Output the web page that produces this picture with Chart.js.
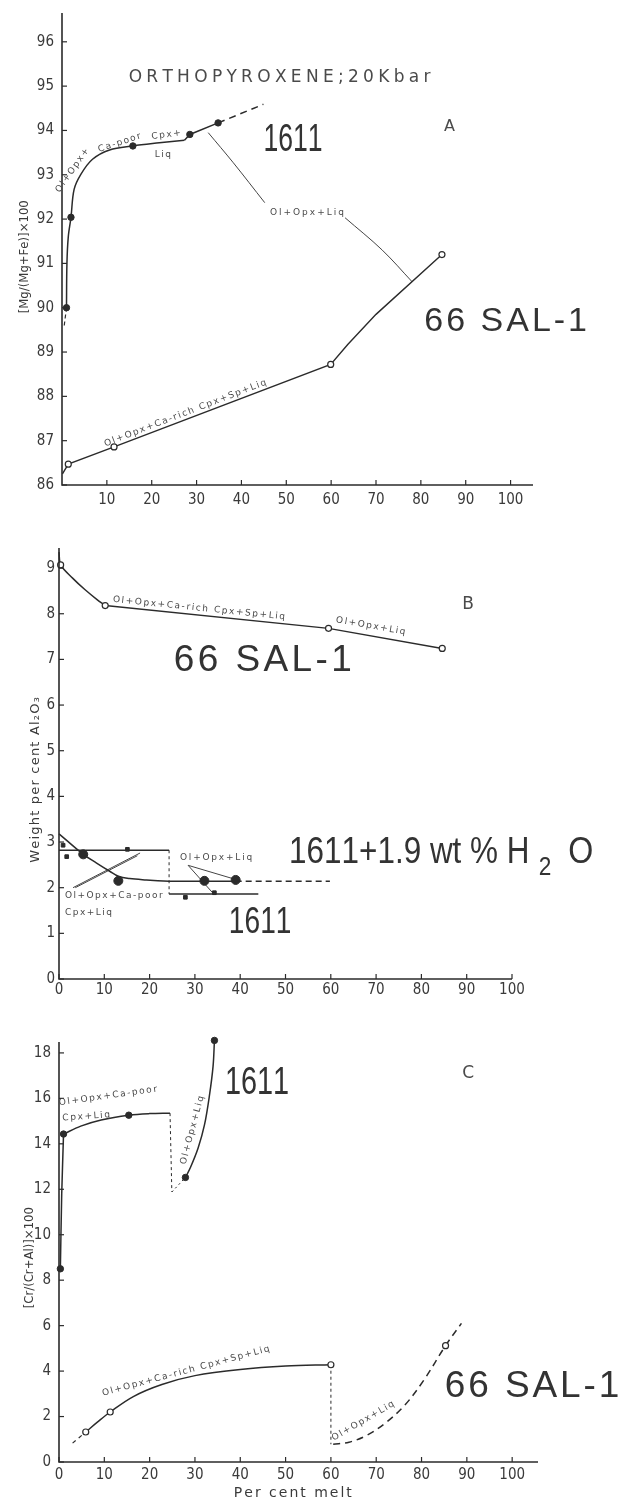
<!DOCTYPE html>
<html>
<head>
<meta charset="utf-8">
<script src="https://cdn.jsdelivr.net/npm/chart.js@4.4.1/dist/chart.umd.min.js"></script>
<style>
  html, body { margin: 0; padding: 0; background: #fff; }
  body { width: 634px; height: 1503px; position: relative; overflow: hidden; }
  canvas { position: absolute; left: 0; }
</style>
</head>
<body>
<canvas id="chartA" width="634" height="520" style="top:0px"></canvas>
<canvas id="chartB" width="634" height="480" style="top:520px"></canvas>
<canvas id="chartC" width="634" height="503" style="top:1000px"></canvas>
<script>
// ---------- data (per cent melt vs. composition) ----------

// Panel A: [Mg/(Mg+Fe)]x100 of orthopyroxene
const xTicksA = [10, 20, 30, 40, 50, 60, 70, 80, 90, 100];
const yTicksA = [86, 87, 88, 89, 90, 91, 92, 93, 94, 95, 96];
const a1611LineX = [1.0, 1.1, 1.4, 2.0, 2.7, 4.2, 6.8, 10.6, 15.8, 21.7, 27.3];
const a1611LineY = [90.0, 91.0, 91.6, 92.04, 92.67, 93.01, 93.35, 93.56, 93.65, 93.72, 93.78];
const a1611KinkX = [27.3, 28.5, 34.8];
const a1611KinkY = [93.78, 93.91, 94.17];
const a1611HeadX = [0.5, 1.0];
const a1611HeadY = [89.6, 90.0];
const a1611TailX = [34.8, 44.9];
const a1611TailY = [94.17, 94.59];
const a1611PtsX = [1.0, 2.0, 15.8, 28.5, 34.8];
const a1611PtsY = [90.0, 92.04, 93.65, 93.91, 94.17];
const aSalLineX = [0.1, 1.4, 11.6, 59.9, 63.7, 70.0, 84.7];
const aSalLineY = [86.25, 86.47, 86.86, 88.72, 89.17, 89.85, 91.2];
const aSalPtsX = [1.4, 11.6, 59.9, 84.7];
const aSalPtsY = [86.47, 86.86, 88.72, 91.2];
const aLeadOneX = [32.6, 38.2, 45.2];
const aLeadOneY = [93.95, 93.27, 92.37];
const aLeadTwoX = [63.1, 71.4, 78.1];
const aLeadTwoY = [92.03, 91.3, 90.58];

// Panel B: weight per cent Al2O3
const xTicksB = [0, 10, 20, 30, 40, 50, 60, 70, 80, 90, 100];
const yTicksB = [0, 1, 2, 3, 4, 5, 6, 7, 8, 9];
const bSalCurveX = [0, 0.36, 3.0, 5.7, 8.4, 10.2];
const bSalCurveY = [9.35, 9.07, 8.78, 8.53, 8.31, 8.18];
const bSalLineX = [10.2, 59.5, 84.6];
const bSalLineY = [8.18, 7.68, 7.24];
const bSalPtsX = [0.36, 10.2, 59.5, 84.6];
const bSalPtsY = [9.07, 8.18, 7.68, 7.24];
const b1611CurveX = [0, 5.35, 8.3, 11.2, 13.1, 15.6, 19.3, 24.3];
const b1611CurveY = [3.18, 2.73, 2.54, 2.36, 2.25, 2.2, 2.17, 2.14];
const b1611UpperX = [0, 24.3];
const b1611UpperY = [2.82, 2.82];
const b1611StepX = [24.3, 24.3];
const b1611StepY = [2.82, 1.86];
const b1611LowerX = [24.3, 44.0];
const b1611LowerY = [1.86, 1.86];
const bWetLineX = [24.3, 39.0];
const bWetLineY = [2.14, 2.14];
const bWetTailX = [39.0, 59.8];
const bWetTailY = [2.14, 2.14];
const bWetPtsX = [5.35, 13.1, 32.1, 39.0];
const bWetPtsY = [2.73, 2.15, 2.15, 2.17];
const bDryPtsX = [0.9, 1.7, 15.1, 27.9, 34.3];
const bDryPtsY = [2.93, 2.68, 2.84, 1.79, 1.89];
const bLeadOneX = [3.1, 17.9];
const bLeadOneY = [2.0, 2.76];
const bLeadTwoX = [3.6, 17.3];
const bLeadTwoY = [2.0, 2.70];
const bLeadThreeX = [28.5, 39.0];
const bLeadThreeY = [2.49, 2.18];
const bLeadFourX = [28.5, 33.9];
const bLeadFourY = [2.49, 1.89];

// Panel C: [Cr/(Cr+Al)]x100
const xTicksC = [0, 10, 20, 30, 40, 50, 60, 70, 80, 90, 100];
const yTicksC = [0, 2, 4, 6, 8, 10, 12, 14, 16, 18];
const c1611StemX = [0.3, 0.6, 1.0];
const c1611StemY = [8.5, 11.8, 14.43];
const c1611LineX = [1.0, 4.8, 9.3, 15.4, 20.0, 24.5];
const c1611LineY = [14.43, 14.78, 15.05, 15.26, 15.33, 15.35];
const c1611DropX = [24.5, 24.9];
const c1611DropY = [15.35, 11.88];
const c1611LinkX = [24.9, 27.9];
const c1611LinkY = [11.88, 12.52];
const c1611RiseX = [27.9, 29.0, 30.7, 32.1, 33.2, 34.0, 34.3];
const c1611RiseY = [12.52, 12.96, 13.82, 14.83, 16.13, 17.42, 18.55];
const c1611PtsX = [0.3, 1.0, 15.4, 27.9, 34.3];
const c1611PtsY = [8.5, 14.43, 15.26, 12.52, 18.55];
const cSalHeadX = [3.0, 5.9];
const cSalHeadY = [0.83, 1.32];
const cSalLineX = [5.9, 8.4, 11.3, 16.4, 22.7, 30, 40, 50, 60];
const cSalLineY = [1.32, 1.74, 2.2, 2.88, 3.41, 3.8, 4.07, 4.22, 4.28];
const cSalDropX = [60, 60];
const cSalDropY = [4.28, 0.78];
const cSalTailX = [60.5, 64, 68, 72, 76.3, 80.5, 85.3, 88.8];
const cSalTailY = [0.78, 0.87, 1.18, 1.71, 2.5, 3.6, 5.12, 6.1];
const cSalPtsX = [5.9, 11.3, 60, 85.3];
const cSalPtsY = [1.32, 2.2, 4.28, 5.12];

// ---------- styling helpers ----------
const SANS = "'DejaVu Sans', sans-serif";
const COND = "'DejaVu Sans Condensed', 'DejaVu Sans', sans-serif";
const BIG = "'Liberation Sans', 'DejaVu Sans', sans-serif";
const INK = '#2b2b2b';

const pts = (xs, ys) => xs.map((x, i) => ({ x: x, y: ys[i] }));

function line(xs, ys, extra) {
  return Object.assign({
    data: pts(xs, ys), showLine: true, pointRadius: 0, borderColor: INK,
    borderWidth: 1.5, fill: false, tension: 0, clip: false
  }, extra || {});
}
// smooth line through the read points (bezier in pixel space)
function curve(xs, ys, extra) {
  return line(xs, ys, Object.assign({ tension: 0.35 }, extra || {}));
}
function openDots(xs, ys, r) {
  return { data: pts(xs, ys), showLine: false, pointRadius: r || 3, pointStyle: 'circle',
    backgroundColor: '#fff', borderColor: INK, borderWidth: 1.2, clip: false };
}
function fullDots(xs, ys, r, style) {
  return { data: pts(xs, ys), showLine: false, pointRadius: r || 3.5, pointStyle: style || 'circle',
    backgroundColor: INK, borderColor: INK, borderWidth: 1, clip: false };
}

function drawLabel(chart, L) {
  const ctx = chart.ctx;
  const px = chart.scales.x.getPixelForValue(L.x);
  const py = chart.scales.y.getPixelForValue(L.y);
  ctx.save();
  ctx.translate(px, py);
  ctx.rotate((L.rot || 0) * Math.PI / 180);
  ctx.scale(L.sx || 1, 1);
  ctx.font = (L.size || 9) + 'px ' + (L.font || SANS);
  ctx.fillStyle = L.color || '#4a4a4a';
  ctx.textBaseline = 'middle';
  const sp = L.sp || 0;
  const chars = Array.from(L.t);
  const w = chars.map(c => ctx.measureText(c).width);
  const total = w.reduce((a, b) => a + b, 0) + sp * (chars.length - 1);
  let cx = L.align === 'left' ? 0 : (L.align === 'right' ? -total : -total / 2);
  chars.forEach((c, i) => { ctx.fillText(c, cx, 0); cx += w[i] + sp; });
  ctx.restore();
}

// axes with inward ticks, plus the free text of the figure
const paperPlugin = {
  id: 'paper',
  afterDatasetsDraw(chart, args, opts) {
    const ctx = chart.ctx;
    const ca = chart.chartArea;
    const xs = chart.scales.x, ys = chart.scales.y;
    ctx.save();
    ctx.strokeStyle = INK;
    ctx.lineWidth = 1.6;
    ctx.beginPath();
    ctx.moveTo(ca.left, ca.top);
    ctx.lineTo(ca.left, ca.bottom);
    ctx.lineTo(ca.right, ca.bottom);
    ctx.stroke();
    ctx.lineWidth = 1.2;
    ctx.fillStyle = '#3a3a3a';
    ctx.font = '15px ' + COND;
    ctx.textAlign = 'center';
    ctx.textBaseline = 'middle';
    opts.xTicks.forEach(v => {
      const p = xs.getPixelForValue(v);
      ctx.beginPath(); ctx.moveTo(p, ca.bottom); ctx.lineTo(p, ca.bottom - 5); ctx.stroke();
      ctx.fillText(String(v), p, ca.bottom + opts.xGap);
    });
    ctx.textAlign = 'right';
    opts.yTicks.forEach(v => {
      const p = ys.getPixelForValue(v);
      ctx.beginPath(); ctx.moveTo(ca.left, p); ctx.lineTo(ca.left + 5, p); ctx.stroke();
      ctx.fillText(String(v), ca.left - opts.yGap, p);
    });
    ctx.restore();
    opts.texts.forEach(L => drawLabel(chart, L));
  }
};

function makePanel(id, cfg) {
  return new Chart(document.getElementById(id), {
    type: 'scatter',
    data: { datasets: cfg.datasets },
    options: {
      responsive: false,
      animation: false,
      devicePixelRatio: 1,
      layout: { padding: cfg.padding },
      scales: {
        x: { type: 'linear', display: false, min: cfg.xRange[0], max: cfg.xRange[1] },
        y: { type: 'linear', display: false, min: cfg.yRange[0], max: cfg.yRange[1] }
      },
      plugins: {
        legend: { display: false },
        tooltip: { enabled: false },
        paper: { xTicks: cfg.xTicks, yTicks: cfg.yTicks, xGap: cfg.xGap, yGap: cfg.yGap, texts: cfg.texts }
      }
    },
    plugins: [paperPlugin]
  });
}

// ---------- panel A ----------
makePanel('chartA', {
  padding: { left: 62, right: 101, top: 13, bottom: 35 },
  xRange: [0, 105], yRange: [86, 96.65],
  xTicks: xTicksA, yTicks: yTicksA, xGap: 15, yGap: 8,
  datasets: [
    fullDots(a1611PtsX, a1611PtsY, 3.2),
    openDots(aSalPtsX, aSalPtsY, 3),
    curve(a1611LineX, a1611LineY),
    line(a1611KinkX, a1611KinkY),
    line(a1611HeadX, a1611HeadY, { borderDash: [4, 3], borderWidth: 1.2 }),
    line(a1611TailX, a1611TailY, { borderDash: [7, 5] }),
    line(aSalLineX, aSalLineY, { borderWidth: 1.4 }),
    curve(aLeadOneX, aLeadOneY, { borderWidth: 1, borderColor: '#444' }),
    curve(aLeadTwoX, aLeadTwoY, { borderWidth: 1, borderColor: '#444' })
  ],
  texts: [
    { t: 'ORTHOPYROXENE;20Kbar', x: 48.5, y: 95.19, size: 17, sp: 4.3 },
    { t: '1611', x: 51.5, y: 93.77, size: 38, sx: 0.7, font: BIG, color: '#333' },
    { t: 'A', x: 86.4, y: 94.08, size: 16 },
    { t: '66 SAL-1', x: 98.9, y: 89.68, size: 34, sp: 3, font: BIG, color: '#333' },
    { t: 'Ol+Opx+Liq', x: 54.6, y: 92.14, size: 9, sp: 2 },
    { t: 'Ol+Opx+', x: 2.3, y: 93.1, size: 9, sp: 1.5, rot: -55 },
    { t: 'Ca-poor', x: 12.8, y: 93.72, size: 9, sp: 1.5, rot: -18 },
    { t: 'Cpx+', x: 23.2, y: 93.9, size: 9, sp: 1.5, rot: -7 },
    { t: 'Liq', x: 22.5, y: 93.46, size: 9, sp: 1.5 },
    { t: 'Ol+Opx+Ca-rich Cpx+Sp+Liq', x: 27.5, y: 87.62, size: 9, sp: 1.6, rot: -21 },
    { t: '[Mg/(Mg+Fe)]×100', x: -8.3, y: 91.15, size: 13, rot: -90, font: COND, color: '#3a3a3a' }
  ]
});

// ---------- panel B ----------
makePanel('chartB', {
  padding: { left: 59, right: 122, top: 28, bottom: 21 },
  xRange: [0, 100], yRange: [0, 9.44],
  xTicks: xTicksB, yTicks: yTicksB, xGap: 11, yGap: 4,
  datasets: [
    fullDots(bWetPtsX, bWetPtsY, 4.5),
    fullDots(bDryPtsX, bDryPtsY, 2.6, 'rect'),
    openDots(bSalPtsX, bSalPtsY, 3),
    curve(bSalCurveX, bSalCurveY, { tension: 0.3 }),
    line(bSalLineX, bSalLineY, { borderWidth: 1.4 }),
    curve(b1611CurveX, b1611CurveY),
    line(b1611UpperX, b1611UpperY),
    line(b1611StepX, b1611StepY, { borderDash: [3, 3], borderWidth: 1 }),
    line(b1611LowerX, b1611LowerY),
    line(bWetLineX, bWetLineY),
    line(bWetTailX, bWetTailY, { borderDash: [6, 4] }),
    line(bLeadOneX, bLeadOneY, { borderWidth: 1, borderColor: '#444' }),
    line(bLeadTwoX, bLeadTwoY, { borderWidth: 1, borderColor: '#444' }),
    line(bLeadThreeX, bLeadThreeY, { borderWidth: 1, borderColor: '#444' }),
    line(bLeadFourX, bLeadFourY, { borderWidth: 1, borderColor: '#444' })
  ],
  texts: [
    { t: 'B', x: 90.3, y: 8.19, size: 17 },
    { t: '66 SAL-1', x: 45.0, y: 6.96, size: 37, sp: 3.4, font: BIG, color: '#333' },
    { t: '1611+1.9 wt % H', x: 50.8, y: 2.76, size: 37, sx: 0.85, align: 'left', font: BIG, color: '#333' },
    { t: '2', x: 107.3, y: 2.43, size: 26, sx: 0.87, font: BIG, color: '#333' },
    { t: 'O', x: 115.2, y: 2.76, size: 37, sx: 0.87, font: BIG, color: '#333' },
    { t: '1611', x: 44.4, y: 1.23, size: 37, sx: 0.76, font: BIG, color: '#333' },
    { t: 'Ol+Opx+Ca-rich Cpx+Sp+Liq', x: 30.9, y: 8.12, size: 9, sp: 1.6, rot: 5.8 },
    { t: 'Ol+Opx+Liq', x: 68.8, y: 7.73, size: 9, sp: 1.6, rot: 10 },
    { t: 'Ol+Opx+Ca-poor', x: 1.3, y: 1.82, size: 9, sp: 1.5, align: 'left' },
    { t: 'Cpx+Liq', x: 1.3, y: 1.46, size: 9, sp: 1.5, align: 'left' },
    { t: 'Ol+Opx+Liq', x: 26.7, y: 2.66, size: 9, sp: 1.8, align: 'left' },
    { t: 'Weight per cent Al₂O₃', x: -5.1, y: 4.36, size: 13, sp: 1.2, rot: -90, color: '#3a3a3a' }
  ]
});

// ---------- panel C ----------
makePanel('chartC', {
  padding: { left: 59, right: 96, top: 42, bottom: 41 },
  xRange: [0, 105.7], yRange: [0, 18.48],
  xTicks: xTicksC, yTicks: yTicksC, xGap: 13, yGap: 8,
  datasets: [
    fullDots(c1611PtsX, c1611PtsY, 3.2),
    openDots(cSalPtsX, cSalPtsY, 3),
    curve(c1611StemX, c1611StemY, { tension: 0.2 }),
    curve(c1611LineX, c1611LineY),
    line(c1611DropX, c1611DropY, { borderDash: [3, 3], borderWidth: 1 }),
    line(c1611LinkX, c1611LinkY, { borderDash: [2, 3], borderWidth: 1 }),
    curve(c1611RiseX, c1611RiseY),
    line(cSalHeadX, cSalHeadY, { borderDash: [4, 4], borderWidth: 1.2 }),
    curve(cSalLineX, cSalLineY),
    line(cSalDropX, cSalDropY, { borderDash: [3, 3], borderWidth: 1 }),
    curve(cSalTailX, cSalTailY, { borderDash: [7, 5] })
  ],
  texts: [
    { t: 'C', x: 90.3, y: 17.1, size: 17 },
    { t: '1611', x: 43.7, y: 16.65, size: 38, sx: 0.76, font: BIG, color: '#333' },
    { t: '66 SAL-1', x: 104.4, y: 3.3, size: 37, sp: 2.9, font: BIG, color: '#333' },
    { t: 'Ol+Opx+Ca-poor', x: 10.8, y: 16.1, size: 9, sp: 1.6, rot: -8 },
    { t: 'Cpx+Liq', x: 6.0, y: 15.2, size: 9, sp: 1.6, rot: -4 },
    { t: 'Ol+Opx+Liq', x: 29.4, y: 14.6, size: 9, sp: 1.6, rot: -75 },
    { t: 'Ol+Opx+Ca-rich Cpx+Sp+Liq', x: 28.0, y: 4.0, size: 9, sp: 1.6, rot: -15 },
    { t: 'Ol+Opx+Liq', x: 67.1, y: 1.8, size: 9, sp: 1.6, rot: -30 },
    { t: '[Cr/(Cr+Al)]×100', x: -6.4, y: 8.99, size: 13, rot: -90, font: COND, color: '#3a3a3a' },
    { t: 'Per cent melt', x: 51.6, y: -1.37, size: 14, sp: 2, color: '#3a3a3a' }
  ]
});
</script>
</body>
</html>
